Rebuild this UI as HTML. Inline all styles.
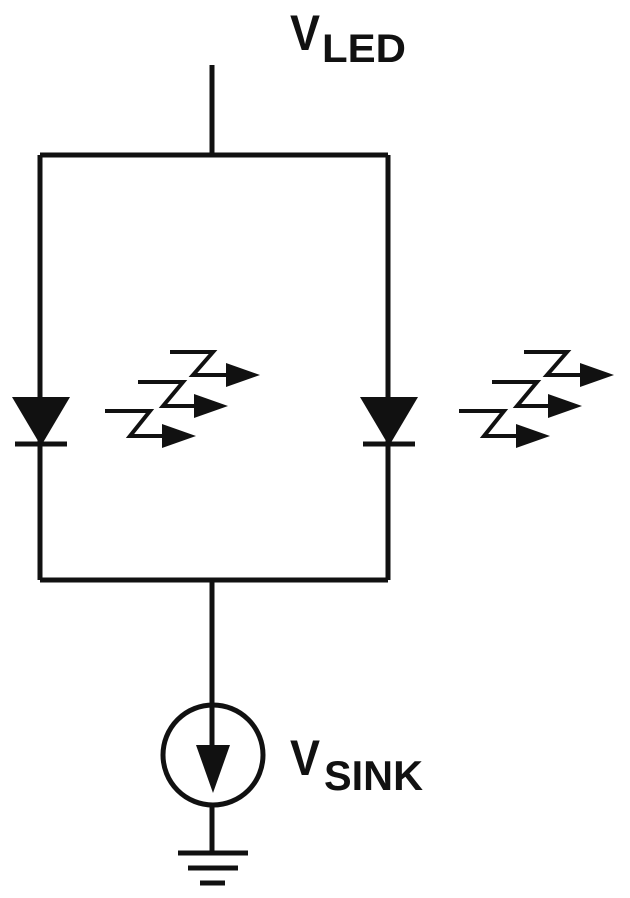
<!DOCTYPE html>
<html><head><style>body{margin:0;background:#fff}svg{display:block}</style></head>
<body>
<svg width="630" height="898" viewBox="0 0 630 898" xmlns="http://www.w3.org/2000/svg">
<g stroke="#111" stroke-width="5" fill="none">
<path d="M212 65V155M40 155H388M40 155V580M388 155V580M40 580H388M212 580V750M212 805V853"/>
<path d="M15 444H67M363 444H415"/>
<circle cx="213" cy="755" r="50"/>
<path d="M178 853H248M188 868H238M200 883H225"/>
</g>
<g fill="#111">
<polygon points="12,397 70,397 41,446"/>
<polygon points="360,397 418,397 389,446"/>
<polygon points="196,745 230,745 213,793"/>
</g>
<g id="arr">
<g stroke="#111" stroke-width="4" fill="none">
<path d="M170 352H213L193 375H228"/>
<path d="M138 382H183L163 406H196"/>
<path d="M105 411H150L130 436H164"/>
</g>
<g fill="#111">
<polygon points="226,363 260,375 226,387"/>
<polygon points="194,394 228,406 194,418"/>
<polygon points="162,424 196,436 162,448"/>
</g>
</g>
<use href="#arr" transform="translate(354,0)"/>
<g font-family="'Liberation Sans',sans-serif" font-weight="bold" fill="#111">
<text x="290" y="50" font-size="50" textLength="30" lengthAdjust="spacingAndGlyphs">V</text>
<text x="322" y="62" font-size="40" textLength="84" lengthAdjust="spacingAndGlyphs">LED</text>
<text x="290" y="775" font-size="50" textLength="30" lengthAdjust="spacingAndGlyphs">V</text>
<text x="324" y="790" font-size="42" textLength="99" lengthAdjust="spacingAndGlyphs">SINK</text>
</g>
</svg>
</body></html>
